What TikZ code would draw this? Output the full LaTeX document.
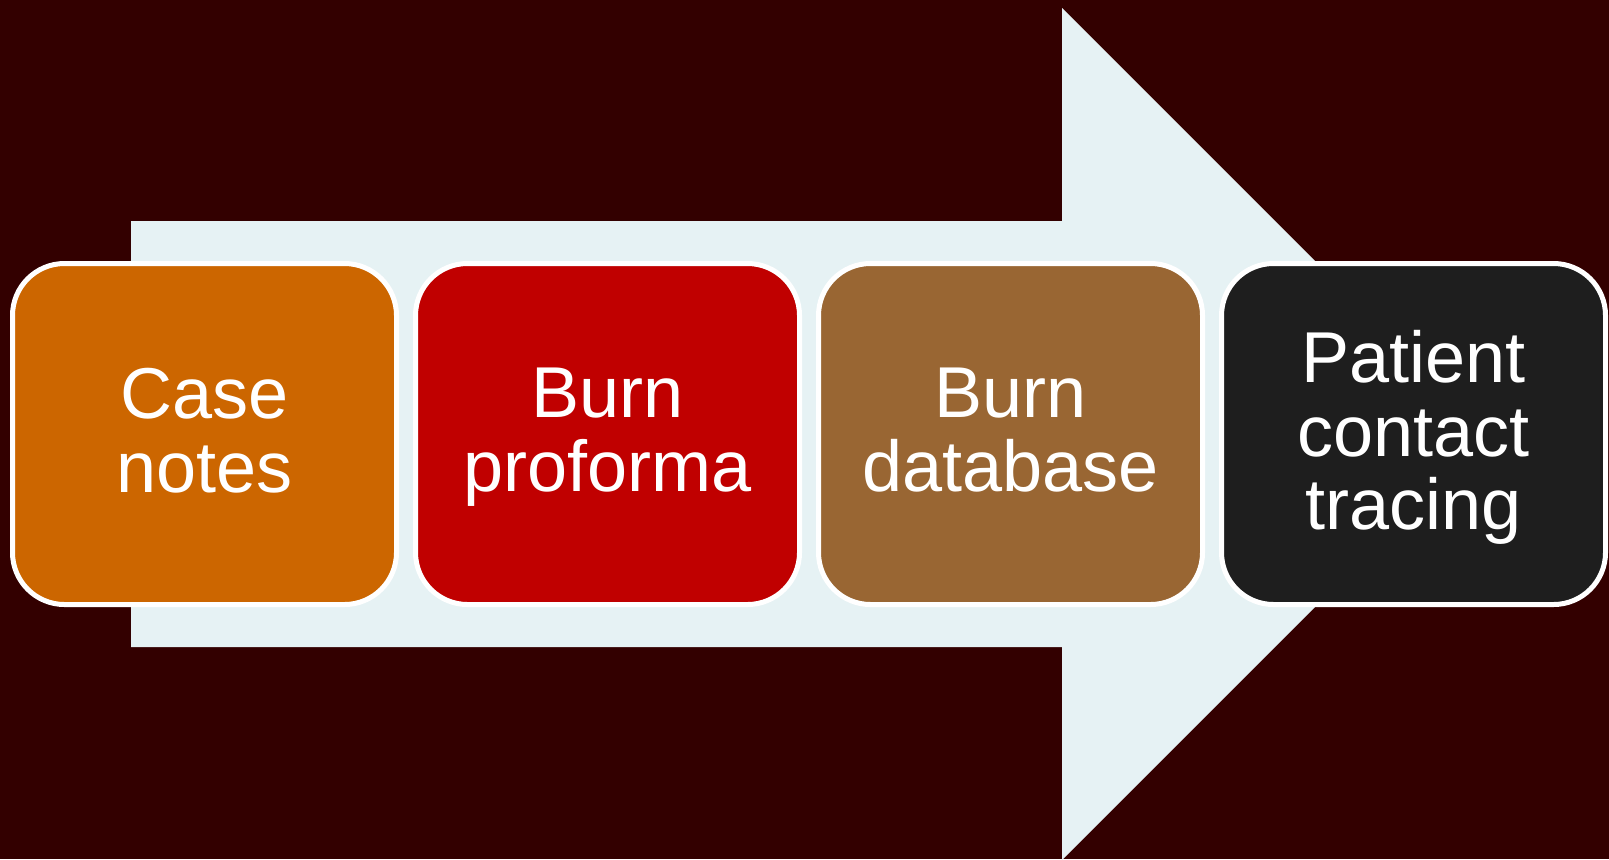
\documentclass[tikz,border=0pt]{standalone}
\usepackage{fontspec}
\setmainfont{Liberation Sans}
\usepackage{xcolor}
\usepackage{tikz}
\usetikzlibrary{positioning}
\definecolor{maroon}{HTML}{330000}
\definecolor{paleteal}{HTML}{E6F2F4}
\definecolor{caseorange}{HTML}{CC6600}
\definecolor{burnred}{HTML}{C00000}
\definecolor{burnbrown}{HTML}{996633}
\definecolor{coal}{HTML}{1E1E1E}
\tikzset{
    every picture/.style={line join=round},
    stagebox/.style={draw=white,line width=0.05cm,rounded corners=0.52cm,
      minimum width=3.84cm,minimum height=3.41cm,inner sep=0pt,outer sep=0pt,
      text=white,align=center,text depth=0.08cm,
      font=\fontsize{20.5pt}{21pt}\selectfont},
    bigarrow/.style={fill=paleteal}
}

\begin{document}
\begin{tikzpicture}[node distance=0.19cm]
  % background and the wide arrow behind the boxes
  \fill[maroon] (0,0) rectangle (16.09,8.59);
  \useasboundingbox (0,0) rectangle (16.09,8.59);
  \fill[bigarrow] (1.31,6.38) -- (10.62,6.38) -- (10.62,8.51) -- (14.88,4.25)
    -- (10.62,-0.01) -- (10.62,2.12) -- (1.31,2.12) -- cycle;
  % the four stages
  \node[stagebox,fill=caseorange] (notes) at (2.045,4.25) {Case\\notes};
  \node[stagebox,fill=burnred,right=of notes] (proforma) {Burn\\proforma};
  \node[stagebox,fill=burnbrown,right=of proforma] (database) {Burn\\database};
  \node[stagebox,fill=coal,right=of database] (tracing) {Patient\\contact\\tracing};
\end{tikzpicture}
\end{document}
